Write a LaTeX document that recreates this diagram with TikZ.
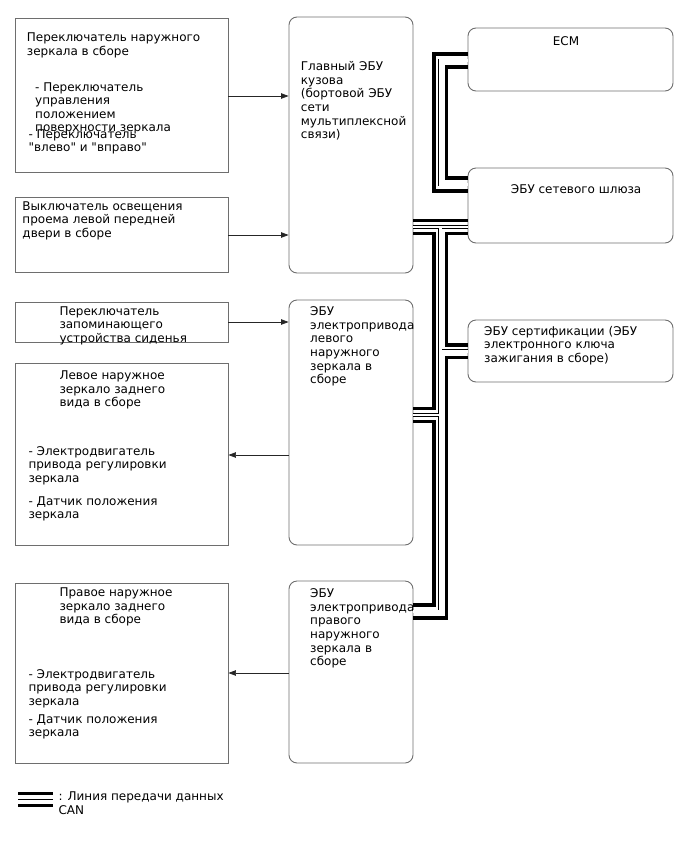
\documentclass[tikz,border=0pt]{standalone}
\usepackage{fontspec}
\setmainfont{DejaVu Sans}[Ligatures=TeXOff]
\usetikzlibrary{arrows.meta}
\definecolor{boxgray}{HTML}{6E6E6E}
\newcommand{\ml}[1]{\begin{tabular}[t]{@{}l@{}}#1\end{tabular}}
\begin{document}
\begin{tikzpicture}[x=1pt,y=-1pt,
  sqbox/.style={draw=boxgray,line width=0.9pt,inner sep=0,rectangle},
  rbox/.style={draw=boxgray,line width=0.9pt,inner sep=0,rectangle,rounded corners=8pt},
  txt/.style={anchor=base west,inner sep=0,font=\fontsize{12}{13.6}\selectfont},
  arr/.style={draw=black!85,line width=0.7pt,-{Triangle[length=7.5pt,width=5.5pt]}},
  can/.style={line width=3.5pt,line join=miter},
  canmid/.style={line width=0.7pt,double=white,double distance=2.4pt,line join=miter}]
\useasboundingbox (0,0) rectangle (688,852);
% boxes
\node[sqbox,minimum width=213pt,minimum height=154pt] (a) at (121.5,95) {};
\node[rbox,minimum width=124pt,minimum height=256pt] (body) at (351,145) {};
\node[sqbox,minimum width=213pt,minimum height=75pt] (b) at (121.5,234.5) {};
\node[sqbox,minimum width=213pt,minimum height=40pt] (c) at (121.5,322) {};
\node[rbox,minimum width=124pt,minimum height=245pt] (lecu) at (351,422.5) {};
\node[sqbox,minimum width=213pt,minimum height=182pt] (d) at (121.5,454) {};
\node[sqbox,minimum width=213pt,minimum height=180pt] (e) at (121.5,673) {};
\node[rbox,minimum width=124pt,minimum height=182pt] (recu) at (351,672) {};
\node[rbox,minimum width=205pt,minimum height=63pt] (ecm) at (570.5,59.5) {};
\node[rbox,minimum width=205pt,minimum height=75pt] (gw) at (570.5,205.5) {};
\node[rbox,minimum width=205pt,minimum height=62pt] (cert) at (570.5,351) {};
% texts
\node[txt] (ta1) at (26.7,41.7) {\ml{Переключатель наружного\\зеркала в сборе}};
\node[txt] (ta2) at (35,91) {\ml{- Переключатель\\управления\\положением\\поверхности зеркала}};
\node[txt] (ta3) at (28.3,138.3) {\ml{- Переключатель\\"влево" и "вправо"}};
\node[txt] (tbody) at (300.7,70.7) {\ml{Главный ЭБУ\\кузова\\(бортовой ЭБУ\\сети\\мультиплексной\\связи)}};
\node[txt] (tb) at (22.3,210) {\ml{Выключатель освещения\\проема левой передней\\двери в сборе}};
\node[txt] (tc) at (59.3,315) {\ml{Переключатель\\запоминающего\\устройства сиденья}};
\node[txt] (tlecu) at (310,315.7) {\ml{ЭБУ\\электропривода\\левого\\наружного\\зеркала в\\сборе}};
\node[txt] (td1) at (59.3,379.5) {\ml{Левое наружное\\зеркало заднего\\вида в сборе}};
\node[txt] (td2) at (28.3,455) {\ml{- Электродвигатель\\привода регулировки\\зеркала}};
\node[txt] (td3) at (28.3,505) {\ml{- Датчик положения\\зеркала}};
\node[txt] (te1) at (59.3,596.5) {\ml{Правое наружное\\зеркало заднего\\вида в сборе}};
\node[txt] (te2) at (28.3,678.3) {\ml{- Электродвигатель\\привода регулировки\\зеркала}};
\node[txt] (te3) at (28.3,723.3) {\ml{- Датчик положения\\зеркала}};
\node[txt] (trecu) at (310,597.7) {\ml{ЭБУ\\электропривода\\правого\\наружного\\зеркала в\\сборе}};
\node[txt] (tecm) at (552.7,45) {ECM};
\node[txt] (tgw) at (510.7,193.3) {ЭБУ сетевого шлюза};
\node[txt] (tcert) at (484,335) {\ml{ЭБУ сертификации (ЭБУ\\электронного ключа\\зажигания в сборе)}};
\node[txt] (tleg) at (58.3,800.5) {\ml{: Линия передачи данных\\CAN}};
% arrows
\draw[arr] (a.east|-0,96) -- (body.west|-0,96);
\draw[arr] (b.east|-0,235) -- (body.west|-0,235);
\draw[arr] (c.east|-0,322) -- (lecu.west|-0,322);
\draw[arr] (lecu.west|-0,455) -- (d.east|-0,455);
\draw[arr] (recu.west|-0,673) -- (e.east|-0,673);
% CAN bus thick lines
\draw[can] (ecm.west|-0,54) -- (434,54) -- (434,191) -- (gw.west|-0,191);
\draw[can] (ecm.west|-0,67) -- (446.6,67) -- (446.6,178) -- (gw.west|-0,178);
\draw[can] (body.east|-0,220.5) -- (gw.west|-0,220.5);
\draw[can] (body.east|-0,233.5) -- (434,233.5) -- (434,408.5) -- (lecu.east|-0,408.5);
\draw[can] (gw.west|-0,233.5) -- (446.6,233.5) -- (446.6,345) -- (cert.west|-0,345);
\draw[can] (cert.west|-0,357.5) -- (446.6,357.5) -- (446.6,618) -- (recu.east|-0,618);
\draw[can] (lecu.east|-0,421.5) -- (434,421.5) -- (434,605) -- (recu.east|-0,605);
% CAN bus middle lines
\draw[canmid] (ecm.west|-0,60.5) -- (440.3,60.5) -- (440.3,184.5) -- (gw.west|-0,184.5);
\draw[canmid] (body.east|-0,227) -- (gw.west|-0,227)
  (440.3,227) -- (440.3,611.5) -- (recu.east|-0,611.5)
  (440.3,351.3) -- (cert.west|-0,351.3)
  (440.3,415) -- (lecu.east|-0,415);
% legend
\coordinate (lg1) at (18,793.5); \coordinate (lg2) at (53,793.5);
\coordinate (lg3) at (18,799.3); \coordinate (lg4) at (53,799.3);
\coordinate (lg5) at (18,805.5); \coordinate (lg6) at (53,805.5);
\draw[can] (lg1) -- (lg2);
\draw[line width=1pt] (lg3) -- (lg4);
\draw[can] (lg5) -- (lg6);
\end{tikzpicture}
\end{document}
